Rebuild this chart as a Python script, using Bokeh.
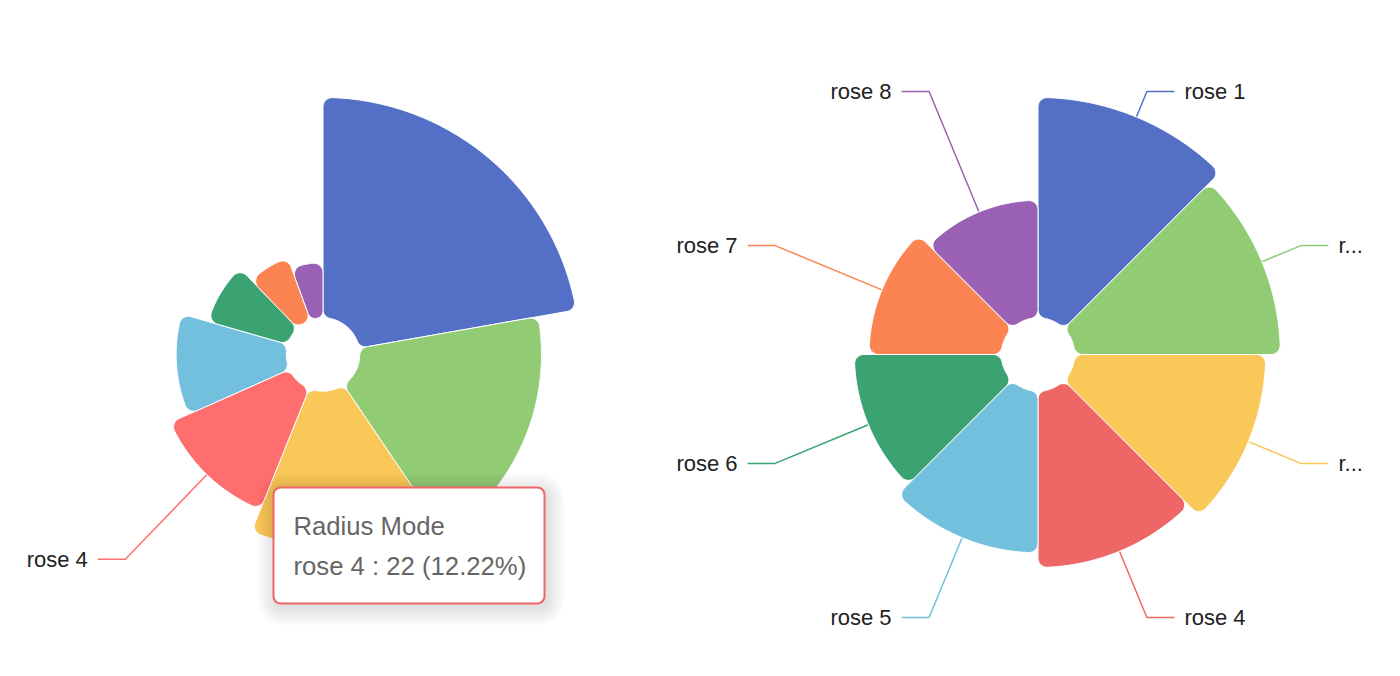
import math
from bokeh.plotting import figure
from bokeh.models import Range1d
from bokeh.core.properties import value
from bokeh.embed import file_html
from bokeh.resources import INLINE

# ---------------- data ----------------
names = ["rose 1", "rose 2", "rose 3", "rose 4", "rose 5", "rose 6", "rose 7", "rose 8"]
radius_values = [40, 33, 28, 22, 20, 15, 12, 10]      # Radius Mode
area_values = [30, 28, 26, 24, 22, 20, 18, 16]        # Area Mode
colors = ["#5470c6", "#91cc75", "#fac858", "#ee6666", "#73c0de", "#3ba272", "#fc8452", "#9a60b4"]
hover_color = "#ff6e6e"
series_names = ["Radius Mode", "Area Mode"]
hovered_index = 3

# ---------------- style / layout ----------------
W, H = 1400, 676
S = 1.836
R_IN, R_OUT = 20 * S, 140 * S
CORNER = 5 * S
SCALE_SIZE = 5 * S
L1, L2, GAP = 15 * S, 15 * S, 10
LEFT_C = (322.5, 354.0)
RIGHT_C = (1037.5, 354.0)
FONT = "Liberation Sans"
LABEL_SIZE = "22px"
TIP_SIZE = "25.7px"

p = figure(width=W, height=H, x_range=Range1d(0, W), y_range=Range1d(H, 0),
           output_backend="svg", toolbar_location=None, min_border=0)
p.axis.visible = False
p.grid.visible = False
p.outline_line_color = None
p.background_fill_color = "white"
p.border_fill_color = "white"


def polar(cx, cy, r, th):
    return (cx + r * math.sin(th), cy - r * math.cos(th))


def arc_pts(ccx, ccy, p_from, p_to, n=10):
    a1 = math.atan2(p_from[1] - ccy, p_from[0] - ccx)
    a2 = math.atan2(p_to[1] - ccy, p_to[0] - ccx)
    d = (a2 - a1 + math.pi) % (2 * math.pi) - math.pi
    rad = math.hypot(p_from[0] - ccx, p_from[1] - ccy)
    return [(ccx + rad * math.cos(a1 + d * t / n), ccy + rad * math.sin(a1 + d * t / n)) for t in range(n + 1)]


def sector(cx, cy, r0, r1, a0, a1, c):
    P = lambda r, th: polar(cx, cy, r, th)
    h = (a1 - a0) / 2
    sh = math.sin(h)
    co = min(c, (r1 - r0) / 2, r1 * sh / (1 + sh))
    ci = min(c, (r1 - r0) / 2, r0 * sh / (1 - sh))
    do = math.asin(co / (r1 - co))
    di = math.asin(ci / (r0 + ci))
    Lo = math.sqrt((r1 - co) ** 2 - co ** 2)
    Li = math.sqrt((r0 + ci) ** 2 - ci ** 2)
    pts = []
    pts += arc_pts(*P(r0 + ci, a0 + di), P(r0, a0 + di), P(Li, a0))
    pts += arc_pts(*P(r1 - co, a0 + do), P(Lo, a0), P(r1, a0 + do))
    n = max(8, int((a1 - a0) * r1 / 3))
    s0, s1 = a0 + do, a1 - do
    pts += [P(r1, s0 + (s1 - s0) * k / n) for k in range(n + 1)]
    pts += arc_pts(*P(r1 - co, a1 - do), P(r1, a1 - do), P(Lo, a1))
    pts += arc_pts(*P(r0 + ci, a1 - di), P(Li, a1), P(r0, a1 - di))
    m = max(4, int((a1 - a0) * r0 / 3))
    t0, t1 = a1 - di, a0 + di
    pts += [P(r0, t0 + (t1 - t0) * k / m) for k in range(m + 1)]
    return [q[0] for q in pts], [q[1] for q in pts]


def rounded_rect(x0, y0, x1, y1, rr, n=8):
    pts = []
    corners = [(x1 - rr, y0 + rr, -math.pi / 2, 0), (x1 - rr, y1 - rr, 0, math.pi / 2),
               (x0 + rr, y1 - rr, math.pi / 2, math.pi), (x0 + rr, y0 + rr, math.pi, 1.5 * math.pi)]
    for ccx, ccy, s, e in corners:
        for k in range(n + 1):
            a = s + (e - s) * k / n
            pts.append((ccx + rr * math.cos(a), ccy + rr * math.sin(a)))
    return [q[0] for q in pts], [q[1] for q in pts]


def truncate(text, avail, size=22.0):
    w = {"r": .333, "o": .556, "s": .5, "e": .556, " ": .278, ".": .278}
    est = lambda t: sum(w.get(ch, .556) for ch in t) * size
    if est(text) <= avail:
        return text
    for k in range(len(text), 0, -1):
        t = text[:k] + "..."
        if est(t) <= avail:
            return t
    return "..."


def radius_of(v, vmax):
    return R_IN + (R_OUT - R_IN) * v / vmax


def draw_labels(cx, cy, mids, radii, cols, texts):
    for mid, r, col, txt in zip(mids, radii, cols, texts):
        sx, sy = polar(cx, cy, r, mid)
        bx, by = polar(cx, cy, R_OUT + L1, mid)
        right = math.sin(mid) >= 0
        ex = bx + (L2 if right else -L2)
        p.line([sx, bx, ex], [sy, by, by], line_color=col, line_width=1.5)
        tx = ex + (GAP if right else -GAP)
        shown = truncate(txt, (1370 - tx)) if right else txt
        p.text([tx], [by], text=[shown], text_font=value(FONT), text_font_size=value(LABEL_SIZE),
               text_color="#222222", text_align="left" if right else "right", text_baseline="middle")


# ---------------- left chart: radius mode ----------------
total = sum(radius_values)
vmax_l = max(radius_values)
cx, cy = LEFT_C
angs = [0.0]
for v in radius_values:
    angs.append(angs[-1] + v / total * 2 * math.pi)

# hovered label line (drawn beneath slices)
mid_h = (angs[hovered_index] + angs[hovered_index + 1]) / 2
draw_labels(cx, cy, [mid_h], [radius_of(radius_values[hovered_index], vmax_l)], [hover_color], [names[hovered_index]])

xs, ys, fills = [], [], []
for i, v in enumerate(radius_values):
    r1 = radius_of(v, vmax_l)
    col = colors[i]
    if i == hovered_index:
        r1 += SCALE_SIZE
        col = hover_color
    x, y = sector(cx, cy, R_IN, r1, angs[i], angs[i + 1], CORNER)
    xs.append(x); ys.append(y); fills.append(col)
p.patches(xs, ys, fill_color=fills, line_color="white", line_width=1)

# ---------------- right chart: area mode ----------------
cx2, cy2 = RIGHT_C
vmax_r = max(area_values)
n = len(area_values)
step = 2 * math.pi / n
mids, radii = [], []
xs, ys = [], []
for i, v in enumerate(area_values):
    r1 = radius_of(v, vmax_r)
    mids.append((i + 0.5) * step)
    radii.append(r1)
    x, y = sector(cx2, cy2, R_IN, r1, i * step, (i + 1) * step, CORNER)
    xs.append(x); ys.append(y)
draw_labels(cx2, cy2, mids, radii, colors, names)
p.patches(xs, ys, fill_color=colors, line_color="white", line_width=1)

# ---------------- tooltip ----------------
tx0, ty0, tx1, ty1 = 273, 487, 544, 603
for k in range(10, 0, -1):
    e = k * 1.8
    sx, sy = rounded_rect(tx0 - e + 2, ty0 - e + 4, tx1 + e + 2, ty1 + e + 4, 7 + e)
    p.patch(sx, sy, fill_color="black", fill_alpha=0.01, line_color=None)
bx, by = rounded_rect(tx0, ty0, tx1, ty1, 7.3)
p.patch(bx, by, fill_color="white", line_color=colors[hovered_index], line_width=2)
pct = radius_values[hovered_index] / total * 100
tip_lines = [series_names[0], f"{names[hovered_index]} : {radius_values[hovered_index]} ({pct:.2f}%)"]
p.text([tx0 + 20, tx0 + 20], [ty0 + 38, ty0 + 78], text=tip_lines, text_font=value(FONT),
       text_font_size=value(TIP_SIZE), text_color="#666666", text_align="left", text_baseline="middle")

open("out.html", "w").write(file_html(p, INLINE))
